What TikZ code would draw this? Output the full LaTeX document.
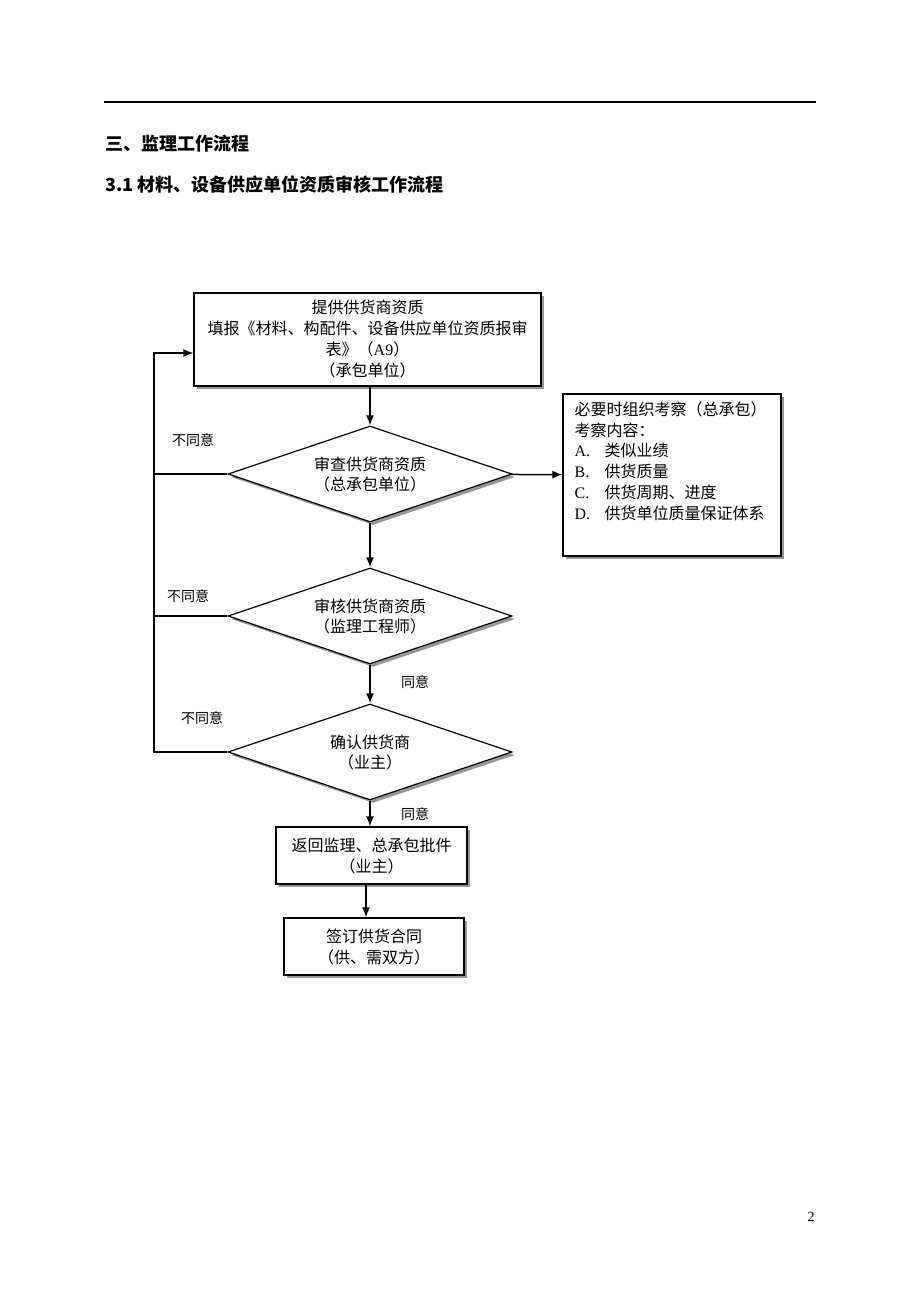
\documentclass[tikz,border=0pt]{standalone}
\usepackage{fontspec}
\setmainfont{Liberation Serif}
\newfontfamily\cjk{Noto Sans CJK SC}
\newfontfamily\lat{Liberation Serif}
\usetikzlibrary{shapes,arrows,arrows.meta,positioning,calc,shadows}
\definecolor{shadowgray}{RGB}{150,150,150}

\tikzset{
  boxshadow/.style={drop shadow={shadow xshift=3pt, shadow yshift=-3pt, fill=shadowgray, opacity=1}},
  procbox/.style={draw, line width=1.2pt, fill=white, align=center, inner sep=2pt,
    font=\cjk\fontsize{16}{21}\selectfont, boxshadow},
  checkdia/.style={diamond, aspect=2.96, draw, line width=1.2pt, fill=white, align=center, inner sep=0pt,
    minimum width=284pt, minimum height=96pt, font=\cjk\fontsize{16}{20}\selectfont, boxshadow},
  flowlabel/.style={font=\cjk\fontsize{14}{16}\selectfont},
  headline/.style={anchor=west, font=\cjk\bfseries\fontsize{18}{20}\selectfont}
}

\begin{document}
\begin{tikzpicture}[x=1pt, y=-1pt, >={Latex[length=10pt,width=8pt]}]
    \useasboundingbox (0,0) rectangle (920,1302);

    % page head
    \draw[line width=1.2pt] (104,102) -- (816,102);
    \node[headline] (h1) at (102,144) {三、监理工作流程};
    \node[headline] (h2) at (102,185) {3.1 材料、设备供应单位资质审核工作流程};

    % main flow
    \node[procbox, minimum width=347pt, minimum height=93pt] (supply) at (367.5,339.5)
        {提供供货商资质\\填报《材料、构配件、设备供应单位资质报审\\表》（{\lat A9}）\\（承包单位）};
    \node[checkdia] (check) at (370,474) {审查供货商资质\\（总承包单位）};
    \node[checkdia] (audit) at (370,616) {审核供货商资质\\（监理工程师）};
    \node[checkdia] (confirm) at (370,752) {确认供货商\\（业主）};
    \node[procbox, minimum width=191pt, minimum height=57pt] (approve) at (371.5,855.5)
        {返回监理、总承包批件\\（业主）};
    \node[procbox, minimum width=180pt, minimum height=57pt] (contract) at (374,946.5)
        {签订供货合同\\（供、需双方）};

    % inspection note
    \node[draw, line width=1.2pt, fill=white, minimum width=218pt, minimum height=162pt, boxshadow] (note) at (672,475) {};
    \node[anchor=north west, align=left, inner sep=0pt, font=\cjk\fontsize{16}{20.8}\selectfont] (notetext)
        at ($(note.north west)+(12,8)$)
        {必要时组织考察（总承包）\\考察内容：\\
         \makebox[30pt][l]{\lat A.}类似业绩\\
         \makebox[30pt][l]{\lat B.}供货质量\\
         \makebox[30pt][l]{\lat C.}供货周期、进度\\
         \makebox[30pt][l]{\lat D.}供货单位质量保证体系};

    \draw[->, line width=1.5pt] (supply.south -| check.north) -- (check.north);
    \draw[->, line width=1.5pt] (check) -- (note);
    \draw[->, line width=1.5pt] (check) -- (audit);
    \draw[->, line width=1.5pt] (audit) -- (confirm);
    \draw[->, line width=1.5pt] (confirm) -- (approve.north -| confirm.south);
    \draw[->, line width=1.5pt] (approve.south -| 366,0) -- (contract.north -| 366,0);

    % return path
    \coordinate (ret) at (154,353);
    \draw[line width=1.2pt] (check.west) -- (check.west -| ret);
    \draw[line width=1.2pt] (audit.west) -- (audit.west -| ret);
    \draw[->, line width=1.2pt] (confirm.west) -| (ret) -- (ret -| supply.west);

    \node[flowlabel] (no1) at (193,440) {不同意};
    \node[flowlabel] (no2) at (188,596) {不同意};
    \node[flowlabel] (no3) at (202,718) {不同意};
    \node[flowlabel] (yes1) at (415,682) {同意};
    \node[flowlabel] (yes2) at (415,814) {同意};

    \node[font=\lat\fontsize{14}{16}\selectfont] (page) at (811,1217) {2};
\end{tikzpicture}
\end{document}
